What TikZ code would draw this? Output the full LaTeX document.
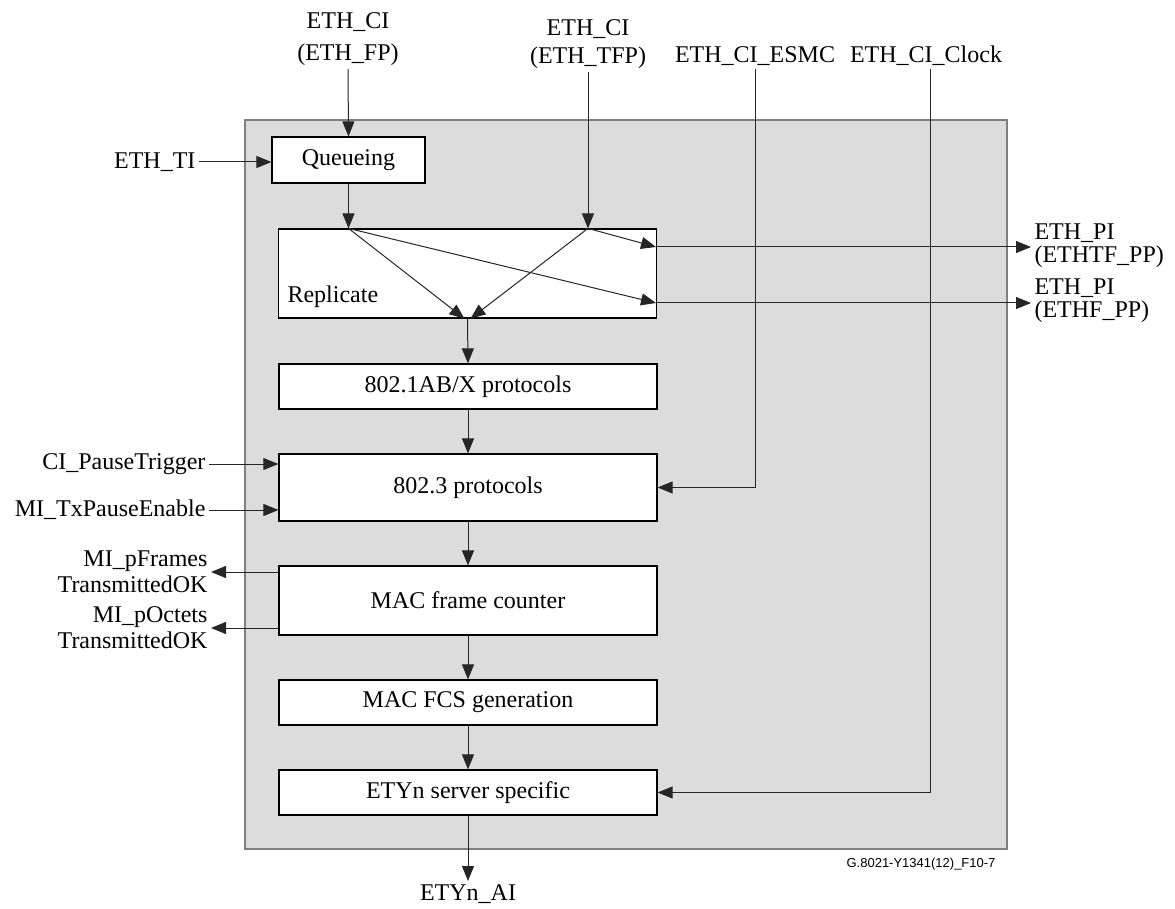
\documentclass[tikz,border=0pt]{standalone}
\usepackage{fontspec}
\setmainfont{Liberation Serif}
\newfontfamily\figsans{Liberation Sans}
\usetikzlibrary{arrows.meta}
\definecolor{fnshade}{RGB}{220,220,220}
\begin{document}
\begin{tikzpicture}[x=1pt, y=-1pt, every node/.style={font=\fontsize{24}{26}\selectfont},
  blk/.style={draw, line width=1.2pt, fill=white, minimum width=378pt, inner sep=0pt},
  sig/.style={line width=1pt, draw=black!85, -{Triangle[length=15pt,width=12pt]}}]
\useasboundingbox (0,0) rectangle (1175,909);
\draw[draw=black!50, line width=2pt, fill=fnshade] (245,120) rectangle (1007,849);
% processing blocks
\node[blk, minimum width=153pt, minimum height=46pt] (queue) at (348.5,160) {Queueing};
\node[blk, minimum height=89pt] (repl) at (467.5,273.5) {};
\node[anchor=west] (repllbl) at (284,297) {Replicate};
\node[blk, minimum height=45pt] (abx) at (468,386.5) {802.1AB/X protocols};
\node[blk, minimum height=67pt] (mac3) at (468,487.5) {802.3 protocols};
\node[blk, minimum height=69pt] (cnt) at (468,600.5) {MAC frame counter};
\node[blk, minimum height=45pt] (fcs) at (468,702.5) {MAC FCS generation};
\node[blk, minimum height=45pt] (srv) at (468,792.5) {ETYn server specific};
% signals
\node[align=center] (cifp) at (348,39) {ETH\_CI\\[6pt](ETH\_FP)};
\node[align=center] (citfp) at (588,44) {ETH\_CI\\[2pt](ETH\_TFP)};
\node (esmc) at (755,56) {ETH\_CI\_ESMC};
\node (clk) at (926,56) {ETH\_CI\_Clock};
\node[anchor=east] (ti) at (199,162) {ETH\_TI};
\node[anchor=east] (cpt) at (209,464) {CI\_PauseTrigger};
\node[anchor=east] (txp) at (209,510) {MI\_TxPauseEnable};
\node[anchor=east, align=right] (pfr) at (211,572) {MI\_pFrames\\TransmittedOK};
\node[anchor=east, align=right] (poc) at (211,628) {MI\_pOctets\\TransmittedOK};
\node[anchor=west, align=left] (pitf) at (1031,246) {ETH\_PI\\[-3pt](ETHTF\_PP)};
\node[anchor=west, align=left] (pif) at (1031,301) {ETH\_PI\\[-3pt](ETHF\_PP)};
\node (ai) at (468,894) {ETYn\_AI};
\node[anchor=east, font=\figsans\fontsize{13}{15}\selectfont] (figid) at (999,864) {G.8021-Y1341(12)\_F10-7};
\coordinate (qin) at (queue.south |- repl.north);
\coordinate (tin) at (citfp.south |- repl.north);
\coordinate (po1) at (656,247);
\coordinate (po2) at (656,303);
% connectors
\draw[sig] (cifp.south) -- (queue.north);
\draw[sig] (ti.east) -- (ti.east -| queue.west);
\draw[sig] (queue.south) -- (qin);
\draw[sig] (citfp.south) -- (tin);
\draw[sig] (qin) -- ([xshift=-3pt]repl.south);
\draw[sig] (tin) -- ([xshift=3pt]repl.south);
\draw[sig] (tin) -- (po1);
\draw[sig] (qin) -- (po2);
\draw[sig] (po1) -- (po1 -| pitf.west);
\draw[sig] (po2) -- (po2 -| pif.west);
\draw[sig] (repl.south) -- (abx.north);
\draw[sig] (abx.south) -- (mac3.north);
\draw[sig] (mac3.south) -- (cnt.north);
\draw[sig] (cnt.south) -- (fcs.north);
\draw[sig] (fcs.south) -- (srv.north);
\draw[sig] (srv.south) -- (ai.north);
\draw[sig] (esmc.south) |- (mac3.east);
\draw[sig] ([xshift=4pt]clk.south) |- (srv.east);
\draw[sig] (cpt.east) -- (cpt.east -| mac3.west);
\draw[sig] (txp.east) -- (txp.east -| mac3.west);
\draw[sig] (cnt.west |- pfr.east) -- (pfr.east);
\draw[sig] (cnt.west |- poc.east) -- (poc.east);
\end{tikzpicture}
\end{document}
